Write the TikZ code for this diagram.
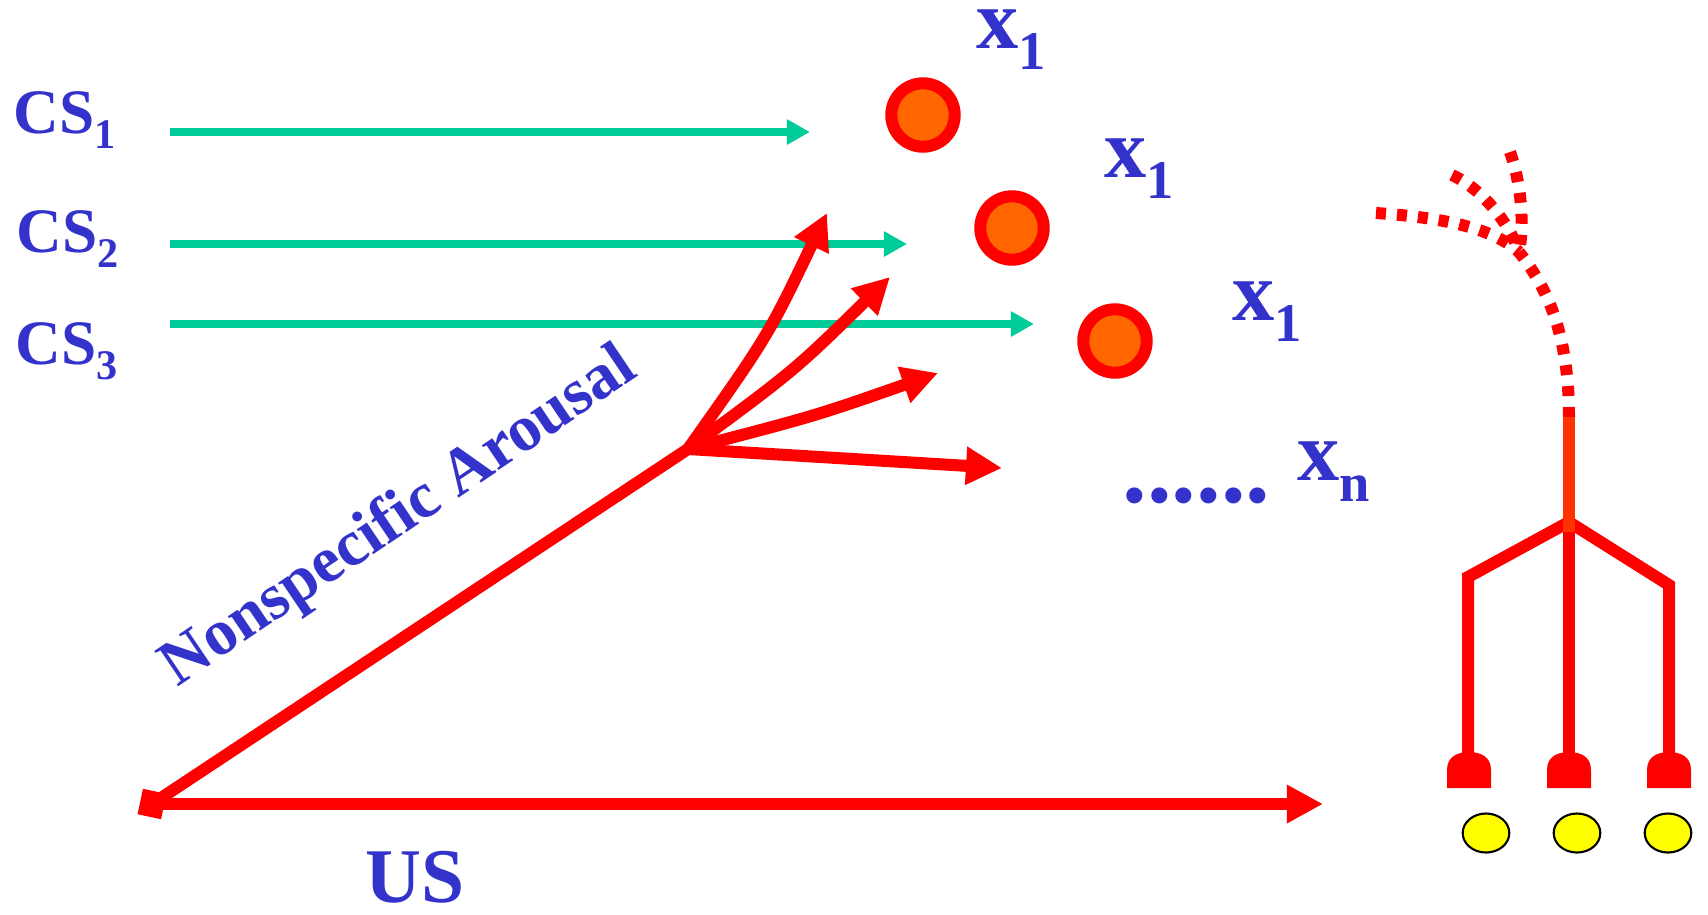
\documentclass[tikz,border=0pt]{standalone}
\usepackage{fontspec}
\setmainfont{Liberation Serif}
\usetikzlibrary{arrows.meta,shapes.geometric}

\definecolor{labelblue}{RGB}{51,51,204}
\definecolor{csgreen}{RGB}{0,204,153}
\definecolor{cellorange}{RGB}{255,102,0}
\definecolor{axonred}{RGB}{255,51,0}
\definecolor{siteyellow}{RGB}{255,255,0}

% stimulus and unit labels with a lowered index
\newcommand{\cslab}[1]{{\fontsize{18}{18}\selectfont CS}\raisebox{-4.3pt}{\fontsize{12}{12}\selectfont #1}}
\newcommand{\unitlab}[1]{{\fontsize{24}{24}\selectfont x}\raisebox{-6pt}{\fontsize{15.5}{16}\selectfont #1}}

\tikzset{
  lab/.style={text=labelblue,font=\bfseries,inner sep=0pt,anchor=base west},
  csline/.style={csgreen,line width=0.08cm,-{Triangle[length=0.23cm,width=0.24cm]}},
  redline/.style={red,line width=0.12cm},
  redarrow/.style={redline,-{Triangle[length=0.36cm,width=0.36cm]}},
  unit/.style={circle,draw=red,fill=cellorange,line width=0.12cm,minimum size=0.634cm,inner sep=0pt},
  dendrite/.style={red,line width=0.12cm,dash pattern=on 0.1cm off 0.11cm},
  site/.style={ellipse,draw=black,line width=0.6pt,fill=siteyellow,minimum width=0.466cm,minimum height=0.39cm,inner sep=0pt}
}

\begin{document}
\begin{tikzpicture}[x=0.01cm,y=-0.01cm]
\useasboundingbox (0,0) rectangle (1708,914);

% labels
\node[lab] (cs1) at (13,133) {\cslab{1}};
\node[lab] (cs2) at (16,252) {\cslab{2}};
\node[lab] (cs3) at (15,364) {\cslab{3}};
\node[lab] (x1) at (976,48) {\unitlab{1}};
\node[lab] (x2) at (1104,177) {\unitlab{1}};
\node[lab] (x3) at (1232,320) {\unitlab{1}};
\node[lab] (xn) at (1297,480) {\unitlab{n}};
\node[lab,font=\bfseries\fontsize{28}{28}\selectfont] (dots) at (1122,502) {......};
\node[lab,font=\bfseries\fontsize{22}{22}\selectfont] (us) at (365,902) {US};
\node[text=labelblue,font=\bfseries\fontsize{18.5}{18.5}\selectfont,rotate=34] (arousal) at (400,518) {Nonspecific Arousal};

% units
\node[unit] (u1) at (923,115) {};
\node[unit] (u2) at (1012,228) {};
\node[unit] (u3) at (1115,341) {};

% CS pathways
\coordinate (cs1a) at (170,132);
\coordinate (cs1b) at (810,132);
\coordinate (cs2a) at (170,244);
\coordinate (cs2b) at (907,244);
\coordinate (cs3a) at (170,324);
\coordinate (cs3b) at (1034,324);
\draw[csline] (cs1a) -- (cs1b);
\draw[csline] (cs2a) -- (cs2b);
\draw[csline] (cs3a) -- (cs3b);

% US and arousal fan
\node[fill=red,minimum width=0.24cm,minimum height=0.26cm,inner sep=0pt,rotate=-12] (usroot) at (152,804) {};
\coordinate (usend) at (1323,804);
\coordinate (hub) at (688,449);
\coordinate (fan1) at (827,213);
\coordinate (fan2) at (890,277);
\coordinate (fan3) at (938,373);
\coordinate (fan4) at (1002,468);
\draw[redarrow] (usroot.center) -- (usend);
\draw[redline] (usroot.center) -- (hub);
\draw[redarrow] (hub) .. controls (768,336) .. (fan1);
\draw[redarrow] (hub) .. controls (795,370) .. (fan2);
\draw[redarrow] (hub) .. controls (815,416) .. (fan3);
\draw[redarrow] (hub) -- (fan4);

% output cell
\coordinate (trunktop) at (1569,417);
\coordinate (split) at (1569,522);
\coordinate (junction) at (1519,252);
\draw[dendrite] (trunktop) .. controls (1569,330) and (1545,285) .. (junction);
\draw[dendrite] (1376,213) .. controls (1450,218) and (1495,230) .. (junction);
\draw[dendrite] (1452,175) .. controls (1480,188) and (1508,220) .. (junction);
\draw[dendrite] (1510,152) .. controls (1520,180) and (1525,220) .. (junction);
\draw[redline] (split) -- (1569,757);
\draw[redline] (split) -- (1468,577) -- (1468,757);
\draw[redline] (split) -- (1669,585) -- (1669,757);
\draw[axonred,line width=0.12cm] (trunktop) -- (1569,532);
\foreach \bx in {1469,1569,1669}
  \fill[red] (\bx-22,788) -- (\bx-22,770) .. controls (\bx-22,757) and (\bx-12,752) .. (\bx,752)
    .. controls (\bx+12,752) and (\bx+22,757) .. (\bx+22,770) -- (\bx+22,788) -- cycle;
\node[site] (site1) at (1486,833) {};
\node[site] (site2) at (1577,833) {};
\node[site] (site3) at (1668,833) {};

\end{tikzpicture}
\end{document}
